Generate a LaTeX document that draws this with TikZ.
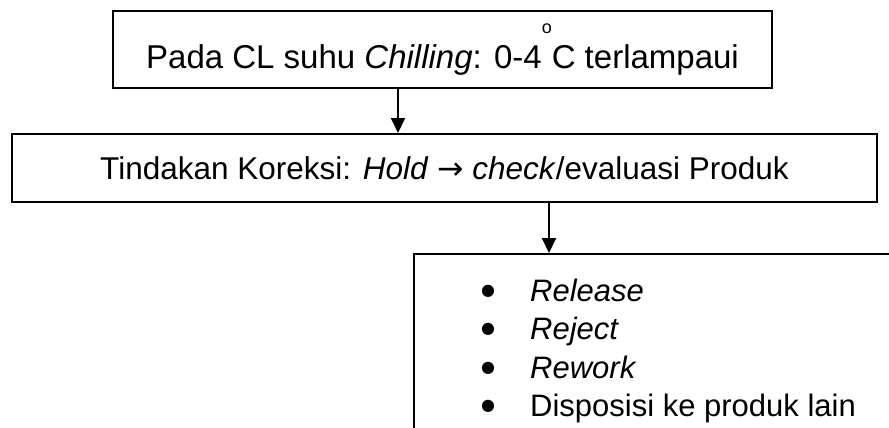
\documentclass[tikz,border=0pt]{standalone}
\usepackage{fontspec}
\setmainfont{Liberation Sans}
\newfontfamily\symfont{DejaVu Sans}
\usetikzlibrary{arrows.meta,positioning,calc}

\newcommand{\listdot}{\makebox[10pt][c]{\raisebox{6pt}{\symfont\fontsize{16}{16}\selectfont ●}}}

\begin{document}
\begin{tikzpicture}[x=1pt, y=-1pt,
    box/.style={draw, line width=2pt, inner sep=0pt, font=\fontsize{31.5}{38.5}\selectfont},
    flow/.style={line width=2pt, -{Triangle[length=15pt,width=14pt]}}]
  % page frame
  \clip (0,0) rectangle (889,428);

  % critical limit box
  \node[box, minimum width=659pt, minimum height=77pt, font=\fontsize{33}{38.5}\selectfont] (cl) at (442.5,49.5)
    {Pada CL suhu \textit{Chilling}: 0-4\raisebox{35pt}{\fontsize{18}{18}\selectfont o}C terlampaui};

  % correction box
  \node[box, minimum width=865pt, minimum height=68pt] (koreksi) at (444.5,168)
    {Tindakan Koreksi: \textit{Hold} {\symfont →} \textit{check}/evaluasi Produk};

  % disposition box, runs off the page
  \node[box, anchor=north west, minimum width=500pt, minimum height=190pt] (dispo) at (413,253) {};
  \node[anchor=base west, inner sep=0pt, font=\fontsize{31}{38.5}\selectfont] (opsi) at (483,301)
    {\begin{tabular}[t]{@{}l@{\hspace{37pt}}l@{}}
      \listdot & \textit{Release}\\
      \listdot & \textit{Reject}\\
      \listdot & \textit{Rework}\\
      \listdot & Disposisi ke produk lain
    \end{tabular}};

  % arrows
  \coordinate (a1) at (398,88);
  \coordinate (a2) at (549,202);
  \draw[flow] (a1 |- cl.south) -- (a1 |- koreksi.north);
  \draw[flow] (a2 |- koreksi.south) -- (a2 |- dispo.north);
\end{tikzpicture}
\end{document}
